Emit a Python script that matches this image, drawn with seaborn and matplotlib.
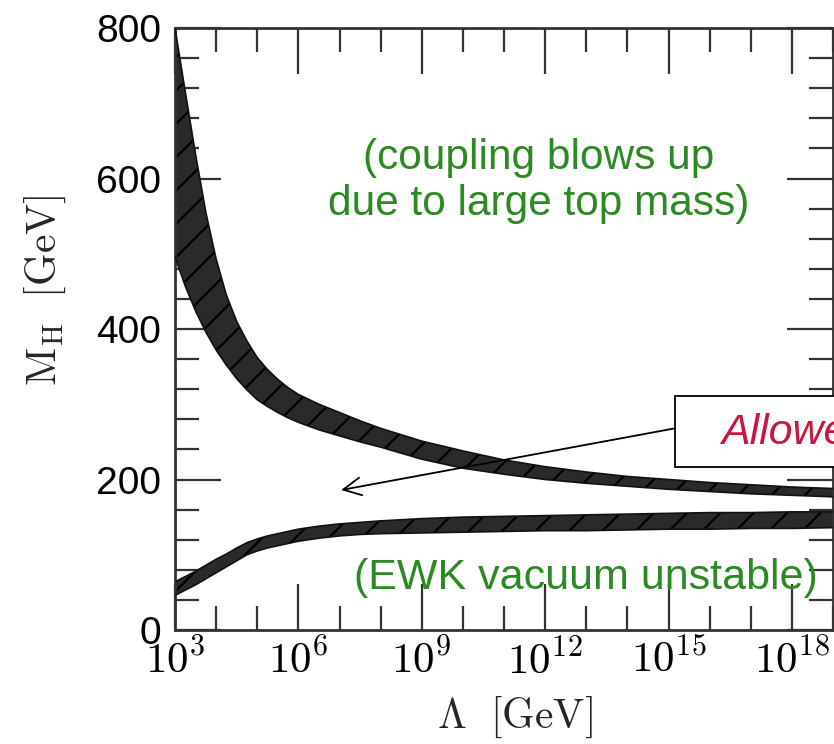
"""
Higgs mass bounds vs cutoff scale
"""

import matplotlib
matplotlib.use('Agg')
import matplotlib.pyplot as plt
from matplotlib.patches import Rectangle
from matplotlib.ticker import FixedLocator, NullFormatter
import seaborn as sns

# band edges, x is log10(Lambda / GeV)
log_lambda = [3.0, 3.25, 3.5, 3.75, 4.0, 4.25, 4.5, 4.75, 5.0,
              5.25, 5.5, 5.75, 6.0, 6.5, 7.0, 7.5, 8.0,
              9.0, 10.0, 11.0, 12.0, 13.0, 14.0, 15.0, 16.0, 17.0, 18.0, 19.0]
# triviality (upper) band
triv_hi = [800, 715, 632, 555, 493, 445, 410, 384, 362,
           346, 333, 322, 313, 300, 289, 278, 268,
           251, 238, 226, 217, 210, 204, 200, 196, 193, 190, 188]
triv_lo = [496, 457, 424, 396, 372, 352, 334, 319, 306,
           297, 289, 282, 276, 266, 258, 250, 243,
           227, 215, 207, 200, 195, 191, 187, 184, 181, 179, 177]
# vacuum stability (lower) band
stab_hi = [64, 71, 78, 86, 94, 101, 109, 116, 121,
           125, 128, 131, 134, 138, 141, 143, 145,
           148, 150, 151, 152, 153, 154, 155, 156, 156, 157, 157]
stab_lo = [46, 53, 60, 68, 76, 84, 92, 100, 105,
           109, 112, 115, 118, 122, 125, 127, 128,
           129, 130, 131, 132, 132, 133, 134, 134, 135, 135, 136]

lam = [10 ** v for v in log_lambda]

x_major = [3, 6, 9, 12, 15, 18]
x_minor = [4, 5, 7, 8, 10, 11, 13, 14, 16, 17, 19]
y_major = [0, 200, 400, 600, 800]
y_minor = [40, 80, 120, 160, 240, 280, 320, 360, 440, 480, 520, 560, 640, 680, 720, 760]

sns.set_style('ticks')
plt.rcParams['font.family'] = ['Liberation Sans', 'DejaVu Sans']
plt.rcParams['mathtext.fontset'] = 'cm'
plt.rcParams['hatch.linewidth'] = 1.6
plt.rcParams['text.color'] = 'black'
plt.rcParams['xtick.labelcolor'] = 'black'
plt.rcParams['ytick.labelcolor'] = 'black'

fig = plt.figure(figsize=(8.34, 7.44), dpi=100)
ax = fig.add_axes([175 / 834, 114 / 744, 658 / 834, 602 / 744])
ax.set_xscale('log')

# hatched bands
for lo, hi in [(triv_lo, triv_hi), (stab_lo, stab_hi)]:
    ax.fill_between(lam, lo, hi, facecolor='#2a2a2a', edgecolor='black',
                    hatch='/', linewidth=0, zorder=2)
    sns.lineplot(x=lam, y=lo, color='#111111', lw=1.2, ax=ax, zorder=3)
    sns.lineplot(x=lam, y=hi, color='#111111', lw=1.2, ax=ax, zorder=3)

ax.set_xlim(1e3, 1e19)
ax.set_ylim(0, 800)

# ticks on all sides, pointing in
ax.xaxis.set_major_locator(FixedLocator([10 ** v for v in x_major]))
ax.xaxis.set_minor_locator(FixedLocator([10 ** v for v in x_minor]))
ax.xaxis.set_minor_formatter(NullFormatter())
ax.set_xticklabels([r'$10^{%d}$' % v for v in x_major])
ax.yaxis.set_major_locator(FixedLocator(y_major))
ax.yaxis.set_minor_locator(FixedLocator(y_minor))
ax.set_yticklabels([str(v) for v in y_major])
ax.tick_params(which='both', direction='in', top=True, right=True,
               color='#333333', width=1.6)
ax.tick_params(which='major', length=33)
ax.tick_params(which='minor', length=17)
ax.tick_params(axis='x', labelsize=31, pad=7)
ax.tick_params(axis='y', labelsize=28, pad=10)
for s in ax.spines.values():
    s.set_color('#333333')
    s.set_linewidth(2)

ax.set_xlabel(r'$\Lambda\ \ [\mathrm{GeV}]$', fontsize=30)
ax.set_ylabel(r'$\mathrm{M}_{\mathrm{H}}\ \ [\mathrm{GeV}]$', fontsize=30)
ax.xaxis.set_label_coords(0.517, -0.108)
ax.yaxis.set_label_coords(-0.163, 0.565)

# annotations
green = '#2b8a22'
ax.text(10 ** 11.84, 597, '(coupling blows up\ndue to large top mass)',
        color=green, fontsize=30.5, ha='center', va='center',
        multialignment='center', linespacing=1.2)
ax.text(10 ** 12.98, 69, '(EWK vacuum unstable)', color=green,
        fontsize=31, ha='center', va='center', zorder=5)

box = Rectangle((10 ** 15.16, 217), 10 ** 22 - 10 ** 15.16, 94,
                facecolor='white', edgecolor='black', lw=1.3,
                zorder=6, clip_on=False)
ax.add_patch(box)
ax.text(10 ** 16.27, 262, 'Allowed', color='#c8173e', fontsize=31,
        style='italic', ha='left', va='center', zorder=7, clip_on=False)
ax.annotate('', xy=(10 ** 7.04, 186), xytext=(10 ** 15.16, 268),
            arrowprops=dict(arrowstyle='->', lw=1.3, color='black',
                            mutation_scale=32, shrinkA=0, shrinkB=0),
            zorder=6)

fig.savefig('out.png', dpi=100)
